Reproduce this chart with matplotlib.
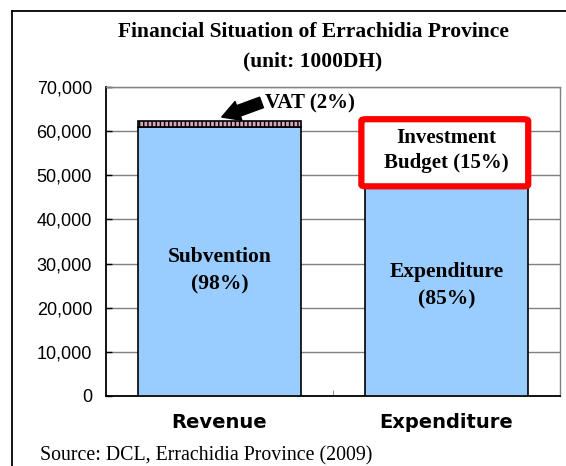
import matplotlib
matplotlib.use("Agg")
import matplotlib.pyplot as plt
from matplotlib.patches import FancyBboxPatch
from matplotlib.lines import Line2D

categories = ["Revenue", "Expenditure"]
base_values = [60900, 52900]      # Subvention / Expenditure
top_values = [1300, 9300]         # VAT / Investment Budget
base_labels = ["Subvention\n(98%)", "Expenditure\n(85%)"]
yticks = [0, 10000, 20000, 30000, 40000, 50000, 60000, 70000]
title_lines = ["Financial Situation of Errachidia Province", "(unit: 1000DH)"]
source = "Source: DCL, Errachidia Province (2009)"

plt.rcParams["hatch.color"] = "#a06080"
W, H = 566, 466
fig = plt.figure(figsize=(W / 100, H / 100), dpi=100)
ax = fig.add_axes([106 / W, 1 - 396 / H, (560 - 106) / W, (396 - 87) / H])

serif = "Liberation Serif"
sans = "Liberation Sans"
blue = "#99CCFF"
bw = 0.72
x = list(range(len(categories)))

ax.bar(x, base_values, width=bw, color=blue, edgecolor="black", linewidth=1.2, zorder=3)
ax.bar(x[0], top_values[0], bottom=base_values[0], width=bw, color="#d8a4c4",
       edgecolor="black", linewidth=1.2, hatch="||||", zorder=3)
ax.bar(x[1], top_values[1], bottom=base_values[1], width=bw, color="white",
       edgecolor="black", linewidth=1.2, zorder=3)

ax.set_xlim(-0.5, 1.5)
ax.set_ylim(0, 70000)
ax.set_yticks(yticks)
ax.set_yticklabels([f"{v:,}" for v in yticks], fontfamily=sans, fontsize=13)
ax.yaxis.grid(True, color="#808080", linewidth=1)
ax.set_axisbelow(True)
ax.tick_params(axis="y", direction="in", length=4, width=1, pad=10)
ax.set_xticks(x)
ax.set_xticklabels(categories, fontfamily="DejaVu Sans", fontweight="bold", fontsize=14)
ax.tick_params(axis="x", length=0, pad=12)
ax.set_xticks([0.5], minor=True)
ax.tick_params(axis="x", which="minor", direction="in", length=4, color="#808080")
for s in ["left", "bottom"]:
    ax.spines[s].set_color("black")
    ax.spines[s].set_linewidth(1.3)
for s in ["top", "right"]:
    ax.spines[s].set_color("#808080")
    ax.spines[s].set_linewidth(1)

# in-bar labels
ax.text(x[0], 28400, base_labels[0], ha="center", va="center", fontfamily=serif,
        fontweight="bold", fontsize=15.5, linespacing=1.45, zorder=5)
ax.text(x[1], 25000, base_labels[1], ha="center", va="center", fontfamily=serif,
        fontweight="bold", fontsize=15.5, linespacing=1.45, zorder=5)

# Investment budget highlight box
box = FancyBboxPatch((x[1] - bw / 2 - 0.015, 47500), bw + 0.015, 15200,
                     boxstyle="round,pad=0,rounding_size=0.02", facecolor="white",
                     edgecolor="#ff0000", linewidth=4.5, zorder=4, mutation_aspect=20000)
ax.add_patch(box)
ax.text(x[1], 55600, "Investment\nBudget (15%)", ha="center", va="center",
        fontfamily=serif, fontweight="bold", fontsize=15, linespacing=1.35, zorder=5)

# VAT annotation
ax.text(0.20, 66200, "VAT (2%)", ha="left", va="center", fontfamily=serif,
        fontweight="bold", fontsize=15, zorder=6)
ax.annotate("", xy=(0.01, 63200), xytext=(0.185, 66500),
            arrowprops=dict(arrowstyle="simple,head_length=0.8,head_width=0.9,tail_width=0.5",
                            color="black", shrinkA=0, shrinkB=0, mutation_scale=16), zorder=6)

# Titles and source
fig.text(313 / W, 1 - 32 / H, title_lines[0], ha="center", va="center",
         fontfamily=serif, fontweight="bold", fontsize=15.5)
fig.text(313 / W, 1 - 61 / H, title_lines[1], ha="center", va="center",
         fontfamily=serif, fontweight="bold", fontsize=15.5)
fig.text(40 / W, 1 - 456 / H, source, ha="left", va="center",
         fontfamily=serif, fontsize=14.3)

# figure border (left and top)
fig.add_artist(Line2D([12 / W, 12 / W], [0, 1 - 11 / H], color="black", linewidth=1.3,
                      transform=fig.transFigure))
fig.add_artist(Line2D([12 / W, 1], [1 - 11 / H, 1 - 11 / H], color="black", linewidth=1.3,
                      transform=fig.transFigure))

fig.savefig("out.png", dpi=100)
